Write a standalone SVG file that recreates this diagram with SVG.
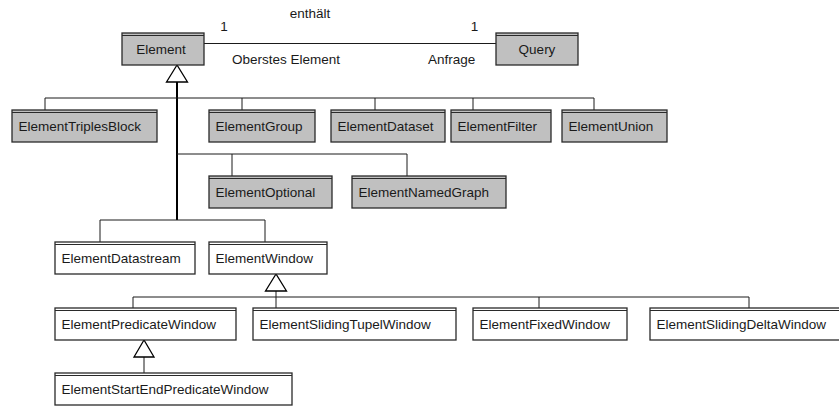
<svg xmlns="http://www.w3.org/2000/svg" width="839" height="406" viewBox="0 0 839 406">
  <defs>
    <style>
      .cls rect { stroke: #2a2a2a; stroke-width: 1.3; }
      .cls line { stroke: #2a2a2a; stroke-width: 1; }
      .abstract rect { fill: #c0c0c0; }
      .concrete rect { fill: #ffffff; }
      text { font-family: "Liberation Sans", Arial, sans-serif; font-size: 13.5px; fill: #1a1a1a; }
      .mid { text-anchor: middle; }
      .edge { stroke: #1a1a1a; stroke-width: 1; fill: none; }
      .thick { stroke: #000000; stroke-width: 2; fill: none; }
      .gen { fill: #ffffff; stroke: #000000; stroke-width: 1.3; }
    </style>
  </defs>
  <rect width="839" height="406" fill="#ffffff"/>

  <!-- connectors -->
  <g id="connectors">
    <!-- association Element - Query -->
    <line class="edge" x1="204" y1="43.5" x2="496" y2="43.5"/>
    <!-- inheritance trunk below Element -->
    <line class="thick" x1="177" y1="82" x2="177" y2="220"/>
    <!-- first row of subclasses -->
    <polyline class="edge" points="45,110 45,98 594,98 594,110"/>
    <line class="edge" x1="242" y1="98" x2="242" y2="110"/>
    <line class="edge" x1="375" y1="98" x2="375" y2="110"/>
    <line class="edge" x1="473" y1="98" x2="473" y2="110"/>
    <!-- second row -->
    <polyline class="edge" points="177,154 407,154 407,176"/>
    <line class="edge" x1="232" y1="154" x2="232" y2="176"/>
    <!-- stream elements -->
    <polyline class="edge" points="100,242 100,220 265,220 265,242"/>
    <!-- window subclasses -->
    <line class="edge" x1="276" y1="291" x2="276" y2="308"/>
    <polyline class="edge" points="133,308 133,297 749,297 749,308"/>
    <line class="edge" x1="539" y1="297" x2="539" y2="308"/>
    <!-- predicate window subclass -->
    <line class="edge" x1="144" y1="356" x2="144" y2="373"/>
    <!-- generalization arrowheads -->
    <polygon class="gen" points="177,65 166.5,82 187.5,82"/>
    <polygon class="gen" points="276,274 265.5,291 286.5,291"/>
    <polygon class="gen" points="144,340 134,357 154,357"/>
  </g>

  <!-- association labels -->
  <g id="association-labels">
    <text x="310" y="18" class="mid">enthält</text>
    <text x="224" y="31" class="mid">1</text>
    <text x="474.5" y="31" class="mid">1</text>
    <text x="232" y="64">Oberstes Element</text>
    <text x="428" y="64">Anfrage</text>
  </g>

  <!-- classes -->
  <g id="Element" class="cls abstract">
    <rect x="122" y="33" width="82" height="32"/>
    <line x1="122" y1="35.5" x2="204" y2="35.5"/>
    <text x="161" y="54" class="mid">Element</text>
  </g>
  <g id="Query" class="cls abstract">
    <rect x="496" y="33" width="82" height="32"/>
    <line x1="496" y1="35.5" x2="578" y2="35.5"/>
    <text x="537" y="54" class="mid">Query</text>
  </g>

  <g id="ElementTriplesBlock" class="cls abstract">
    <rect x="12" y="110" width="145" height="32"/>
    <line x1="12" y1="112.5" x2="157" y2="112.5"/>
    <text x="18.5" y="131">ElementTriplesBlock</text>
  </g>
  <g id="ElementGroup" class="cls abstract">
    <rect x="209" y="110" width="106" height="32"/>
    <line x1="209" y1="112.5" x2="315" y2="112.5"/>
    <text x="215.5" y="131">ElementGroup</text>
  </g>
  <g id="ElementDataset" class="cls abstract">
    <rect x="331" y="110" width="114" height="32"/>
    <line x1="331" y1="112.5" x2="445" y2="112.5"/>
    <text x="337.5" y="131">ElementDataset</text>
  </g>
  <g id="ElementFilter" class="cls abstract">
    <rect x="451" y="110" width="100" height="32"/>
    <line x1="451" y1="112.5" x2="551" y2="112.5"/>
    <text x="457.5" y="131">ElementFilter</text>
  </g>
  <g id="ElementUnion" class="cls abstract">
    <rect x="562" y="110" width="105" height="32"/>
    <line x1="562" y1="112.5" x2="667" y2="112.5"/>
    <text x="568.5" y="131">ElementUnion</text>
  </g>

  <g id="ElementOptional" class="cls abstract">
    <rect x="209" y="176" width="123" height="32"/>
    <line x1="209" y1="178.5" x2="332" y2="178.5"/>
    <text x="215.5" y="197">ElementOptional</text>
  </g>
  <g id="ElementNamedGraph" class="cls abstract">
    <rect x="352" y="176" width="154" height="32"/>
    <line x1="352" y1="178.5" x2="506" y2="178.5"/>
    <text x="358.5" y="197">ElementNamedGraph</text>
  </g>

  <g id="ElementDatastream" class="cls concrete">
    <rect x="55" y="242" width="140" height="32"/>
    <line x1="55" y1="244.5" x2="195" y2="244.5"/>
    <text x="61.5" y="263">ElementDatastream</text>
  </g>
  <g id="ElementWindow" class="cls concrete">
    <rect x="209" y="242" width="118" height="32"/>
    <line x1="209" y1="244.5" x2="327" y2="244.5"/>
    <text x="215.5" y="263">ElementWindow</text>
  </g>

  <g id="ElementPredicateWindow" class="cls concrete">
    <rect x="55" y="308" width="181" height="32"/>
    <line x1="55" y1="310.5" x2="236" y2="310.5"/>
    <text x="61.5" y="329">ElementPredicateWindow</text>
  </g>
  <g id="ElementSlidingTupelWindow" class="cls concrete">
    <rect x="253" y="308" width="203" height="32"/>
    <line x1="253" y1="310.5" x2="456" y2="310.5"/>
    <text x="259.5" y="329">ElementSlidingTupelWindow</text>
  </g>
  <g id="ElementFixedWindow" class="cls concrete">
    <rect x="473" y="308" width="154" height="32"/>
    <line x1="473" y1="310.5" x2="627" y2="310.5"/>
    <text x="479.5" y="329">ElementFixedWindow</text>
  </g>
  <g id="ElementSlidingDeltaWindow" class="cls concrete">
    <rect x="650" y="308" width="196" height="32"/>
    <line x1="650" y1="310.5" x2="846" y2="310.5"/>
    <text x="656.5" y="329">ElementSlidingDeltaWindow</text>
  </g>

  <g id="ElementStartEndPredicateWindow" class="cls concrete">
    <rect x="55" y="373" width="237" height="32"/>
    <line x1="55" y1="375.5" x2="292" y2="375.5"/>
    <text x="61.5" y="394">ElementStartEndPredicateWindow</text>
  </g>
</svg>
